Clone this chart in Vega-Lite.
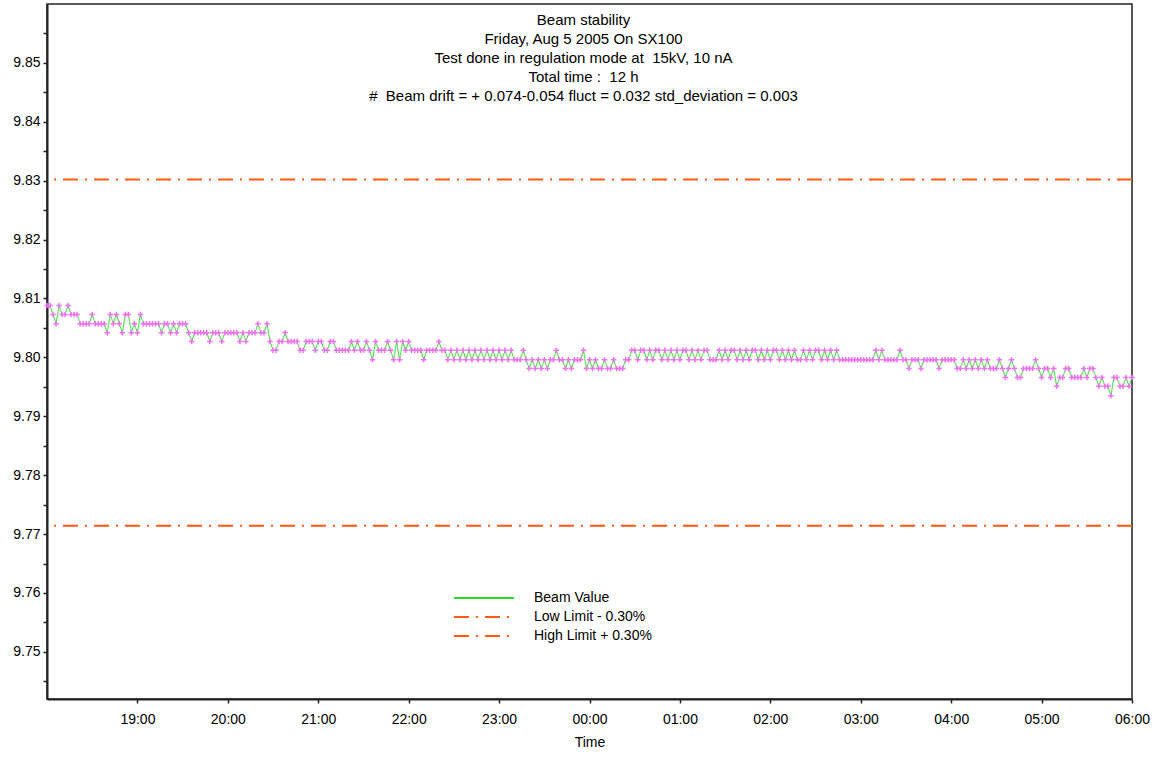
{
  "$schema": "https://vega.github.io/schema/vega-lite/v6.json",
  "width": 1085,
  "height": 695,
  "autosize": "none",
  "padding": {"left": 47, "top": 4, "right": 25, "bottom": 58},
  "background": "white",
  "config": {
    "view": {"stroke": "#222222", "strokeWidth": 1.5},
    "font": "Liberation Sans"
  },
  "title": {
    "text": [
      "Beam stability",
      "Friday, Aug 5 2005 On SX100",
      "Test done in regulation mode at \u00a015kV, 10 nA",
      "Total time : \u00a012 h",
      "# \u00a0Beam drift = + 0.074-0.054 fluct = 0.032 std_deviation = 0.003"
    ],
    "font": "Liberation Sans",
    "fontSize": 15,
    "fontWeight": "normal",
    "color": "#000000",
    "lineHeight": 19,
    "anchor": "middle",
    "dx": -6,
    "offset": -100
  },
  "datasets": {
    "limits": [
      {"series": "Low Limit - 0.30%", "v": 9.7714},
      {"series": "High Limit + 0.30%", "v": 9.8302}
    ],
    "beam": [
      {"m":0,"v":9.8088},{"m":2,"v":9.8088},{"m":4,"v":9.8073},{"m":6,"v":9.8057},{"m":8,"v":9.8088},
      {"m":10,"v":9.8073},{"m":12,"v":9.8073},{"m":14,"v":9.8088},{"m":16,"v":9.8073},{"m":18,"v":9.8073},
      {"m":20,"v":9.8073},{"m":22,"v":9.8057},{"m":24,"v":9.8057},{"m":26,"v":9.8057},{"m":28,"v":9.8057},
      {"m":30,"v":9.8073},{"m":32,"v":9.8057},{"m":34,"v":9.8057},{"m":36,"v":9.8057},{"m":38,"v":9.8057},
      {"m":40,"v":9.8042},{"m":42,"v":9.8073},{"m":44,"v":9.8057},{"m":46,"v":9.8073},{"m":48,"v":9.8057},
      {"m":50,"v":9.8042},{"m":52,"v":9.8073},{"m":54,"v":9.8073},{"m":56,"v":9.8042},{"m":58,"v":9.8057},
      {"m":60,"v":9.8042},{"m":62,"v":9.8073},{"m":64,"v":9.8057},{"m":66,"v":9.8057},{"m":68,"v":9.8057},
      {"m":70,"v":9.8057},{"m":72,"v":9.8057},{"m":74,"v":9.8057},{"m":76,"v":9.8042},{"m":78,"v":9.8057},
      {"m":80,"v":9.8057},{"m":82,"v":9.8042},{"m":84,"v":9.8057},{"m":86,"v":9.8042},{"m":88,"v":9.8057},
      {"m":90,"v":9.8057},{"m":92,"v":9.8057},{"m":94,"v":9.8042},{"m":96,"v":9.8027},{"m":98,"v":9.8042},
      {"m":100,"v":9.8042},{"m":102,"v":9.8042},{"m":104,"v":9.8042},{"m":106,"v":9.8042},{"m":108,"v":9.8027},
      {"m":110,"v":9.8042},{"m":112,"v":9.8042},{"m":114,"v":9.8042},{"m":116,"v":9.8027},{"m":118,"v":9.8042},
      {"m":120,"v":9.8042},{"m":122,"v":9.8042},{"m":124,"v":9.8042},{"m":126,"v":9.8042},{"m":128,"v":9.8027},
      {"m":130,"v":9.8042},{"m":132,"v":9.8027},{"m":134,"v":9.8042},{"m":136,"v":9.8042},{"m":138,"v":9.8042},
      {"m":140,"v":9.8057},{"m":142,"v":9.8042},{"m":144,"v":9.8042},{"m":146,"v":9.8057},{"m":148,"v":9.8027},
      {"m":150,"v":9.8012},{"m":152,"v":9.8012},{"m":154,"v":9.8027},{"m":156,"v":9.8027},{"m":158,"v":9.8042},
      {"m":160,"v":9.8027},{"m":162,"v":9.8027},{"m":164,"v":9.8027},{"m":166,"v":9.8027},{"m":168,"v":9.8012},
      {"m":170,"v":9.8012},{"m":172,"v":9.8027},{"m":174,"v":9.8027},{"m":176,"v":9.8027},{"m":178,"v":9.8012},
      {"m":180,"v":9.8027},{"m":182,"v":9.8027},{"m":184,"v":9.8012},{"m":186,"v":9.8012},{"m":188,"v":9.8027},
      {"m":190,"v":9.8027},{"m":192,"v":9.8012},{"m":194,"v":9.8012},{"m":196,"v":9.8012},{"m":198,"v":9.8012},
      {"m":200,"v":9.8012},{"m":202,"v":9.8027},{"m":204,"v":9.8012},{"m":206,"v":9.8027},{"m":208,"v":9.8012},
      {"m":210,"v":9.8012},{"m":212,"v":9.8027},{"m":214,"v":9.8012},{"m":216,"v":9.7996},{"m":218,"v":9.8027},
      {"m":220,"v":9.8012},{"m":222,"v":9.8012},{"m":224,"v":9.8012},{"m":226,"v":9.8027},{"m":228,"v":9.8012},
      {"m":230,"v":9.7996},{"m":232,"v":9.8027},{"m":234,"v":9.7996},{"m":236,"v":9.8027},{"m":238,"v":9.8012},
      {"m":240,"v":9.8027},{"m":242,"v":9.8012},{"m":244,"v":9.8012},{"m":246,"v":9.8012},{"m":248,"v":9.8012},
      {"m":250,"v":9.7996},{"m":252,"v":9.8012},{"m":254,"v":9.8012},{"m":256,"v":9.8012},{"m":258,"v":9.8012},
      {"m":260,"v":9.8027},{"m":262,"v":9.8012},{"m":264,"v":9.8012},{"m":266,"v":9.7996},{"m":268,"v":9.8012},
      {"m":270,"v":9.7996},{"m":272,"v":9.8012},{"m":274,"v":9.7996},{"m":276,"v":9.8012},{"m":278,"v":9.7996},
      {"m":280,"v":9.8012},{"m":282,"v":9.7996},{"m":284,"v":9.8012},{"m":286,"v":9.7996},{"m":288,"v":9.8012},
      {"m":290,"v":9.7996},{"m":292,"v":9.8012},{"m":294,"v":9.7996},{"m":296,"v":9.8012},{"m":298,"v":9.7996},
      {"m":300,"v":9.8012},{"m":302,"v":9.7996},{"m":304,"v":9.8012},{"m":306,"v":9.7996},{"m":308,"v":9.8012},
      {"m":310,"v":9.7996},{"m":312,"v":9.7996},{"m":314,"v":9.7996},{"m":316,"v":9.8012},{"m":318,"v":9.7996},
      {"m":320,"v":9.7981},{"m":322,"v":9.7996},{"m":324,"v":9.7981},{"m":326,"v":9.7996},{"m":328,"v":9.7981},
      {"m":330,"v":9.7996},{"m":332,"v":9.7981},{"m":334,"v":9.7996},{"m":336,"v":9.7996},{"m":338,"v":9.8012},
      {"m":340,"v":9.7996},{"m":342,"v":9.7996},{"m":344,"v":9.7981},{"m":346,"v":9.7996},{"m":348,"v":9.7981},
      {"m":350,"v":9.7996},{"m":352,"v":9.7996},{"m":354,"v":9.7996},{"m":356,"v":9.8012},{"m":358,"v":9.7981},
      {"m":360,"v":9.7996},{"m":362,"v":9.7981},{"m":364,"v":9.7996},{"m":366,"v":9.7981},{"m":368,"v":9.7981},
      {"m":370,"v":9.7996},{"m":372,"v":9.7981},{"m":374,"v":9.7981},{"m":376,"v":9.7996},{"m":378,"v":9.7981},
      {"m":380,"v":9.7981},{"m":382,"v":9.7981},{"m":384,"v":9.7996},{"m":386,"v":9.7996},{"m":388,"v":9.8012},
      {"m":390,"v":9.8012},{"m":392,"v":9.7996},{"m":394,"v":9.8012},{"m":396,"v":9.8012},{"m":398,"v":9.7996},
      {"m":400,"v":9.8012},{"m":402,"v":9.7996},{"m":404,"v":9.8012},{"m":406,"v":9.8012},{"m":408,"v":9.7996},
      {"m":410,"v":9.8012},{"m":412,"v":9.7996},{"m":414,"v":9.8012},{"m":416,"v":9.7996},{"m":418,"v":9.8012},
      {"m":420,"v":9.7996},{"m":422,"v":9.8012},{"m":424,"v":9.8012},{"m":426,"v":9.7996},{"m":428,"v":9.8012},
      {"m":430,"v":9.7996},{"m":432,"v":9.8012},{"m":434,"v":9.7996},{"m":436,"v":9.8012},{"m":438,"v":9.8012},
      {"m":440,"v":9.7996},{"m":442,"v":9.7996},{"m":444,"v":9.7996},{"m":446,"v":9.8012},{"m":448,"v":9.7996},
      {"m":450,"v":9.8012},{"m":452,"v":9.7996},{"m":454,"v":9.8012},{"m":456,"v":9.8012},{"m":458,"v":9.7996},
      {"m":460,"v":9.8012},{"m":462,"v":9.7996},{"m":464,"v":9.8012},{"m":466,"v":9.7996},{"m":468,"v":9.8012},
      {"m":470,"v":9.8012},{"m":472,"v":9.7996},{"m":474,"v":9.8012},{"m":476,"v":9.7996},{"m":478,"v":9.8012},
      {"m":480,"v":9.7996},{"m":482,"v":9.8012},{"m":484,"v":9.8012},{"m":486,"v":9.7996},{"m":488,"v":9.8012},
      {"m":490,"v":9.7996},{"m":492,"v":9.8012},{"m":494,"v":9.7996},{"m":496,"v":9.8012},{"m":498,"v":9.7996},
      {"m":500,"v":9.7996},{"m":502,"v":9.8012},{"m":504,"v":9.7996},{"m":506,"v":9.8012},{"m":508,"v":9.7996},
      {"m":510,"v":9.8012},{"m":512,"v":9.8012},{"m":514,"v":9.7996},{"m":516,"v":9.8012},{"m":518,"v":9.7996},
      {"m":520,"v":9.8012},{"m":522,"v":9.7996},{"m":524,"v":9.8012},{"m":526,"v":9.7996},{"m":528,"v":9.7996},
      {"m":530,"v":9.7996},{"m":532,"v":9.7996},{"m":534,"v":9.7996},{"m":536,"v":9.7996},{"m":538,"v":9.7996},
      {"m":540,"v":9.7996},{"m":542,"v":9.7996},{"m":544,"v":9.7996},{"m":546,"v":9.7996},{"m":548,"v":9.7996},
      {"m":550,"v":9.8012},{"m":552,"v":9.7996},{"m":554,"v":9.8012},{"m":556,"v":9.7996},{"m":558,"v":9.7996},
      {"m":560,"v":9.7996},{"m":562,"v":9.7996},{"m":564,"v":9.7996},{"m":566,"v":9.8012},{"m":568,"v":9.7996},
      {"m":570,"v":9.7996},{"m":572,"v":9.7981},{"m":574,"v":9.7996},{"m":576,"v":9.7996},{"m":578,"v":9.7996},
      {"m":580,"v":9.7981},{"m":582,"v":9.7996},{"m":584,"v":9.7996},{"m":586,"v":9.7996},{"m":588,"v":9.7996},
      {"m":590,"v":9.7996},{"m":592,"v":9.7981},{"m":594,"v":9.7996},{"m":596,"v":9.7996},{"m":598,"v":9.7996},
      {"m":600,"v":9.7996},{"m":602,"v":9.7996},{"m":604,"v":9.7981},{"m":606,"v":9.7981},{"m":608,"v":9.7996},
      {"m":610,"v":9.7981},{"m":612,"v":9.7996},{"m":614,"v":9.7981},{"m":616,"v":9.7996},{"m":618,"v":9.7981},
      {"m":620,"v":9.7996},{"m":622,"v":9.7981},{"m":624,"v":9.7996},{"m":626,"v":9.7981},{"m":628,"v":9.7981},
      {"m":630,"v":9.7981},{"m":632,"v":9.7996},{"m":634,"v":9.7981},{"m":636,"v":9.7966},{"m":638,"v":9.7981},
      {"m":640,"v":9.7996},{"m":642,"v":9.7981},{"m":644,"v":9.7966},{"m":646,"v":9.7966},{"m":648,"v":9.7981},
      {"m":650,"v":9.7981},{"m":652,"v":9.7981},{"m":654,"v":9.7981},{"m":656,"v":9.7996},{"m":658,"v":9.7981},
      {"m":660,"v":9.7966},{"m":662,"v":9.7981},{"m":664,"v":9.7981},{"m":666,"v":9.7966},{"m":668,"v":9.7981},
      {"m":670,"v":9.7951},{"m":672,"v":9.7966},{"m":674,"v":9.7966},{"m":676,"v":9.7981},{"m":678,"v":9.7981},
      {"m":680,"v":9.7966},{"m":682,"v":9.7966},{"m":684,"v":9.7966},{"m":686,"v":9.7966},{"m":688,"v":9.7981},
      {"m":690,"v":9.7966},{"m":692,"v":9.7981},{"m":694,"v":9.7981},{"m":696,"v":9.7966},{"m":698,"v":9.7951},
      {"m":700,"v":9.7966},{"m":702,"v":9.7951},{"m":704,"v":9.7951},{"m":706,"v":9.7935},{"m":708,"v":9.7966},
      {"m":710,"v":9.7966},{"m":712,"v":9.7951},{"m":714,"v":9.7951},{"m":716,"v":9.7966},{"m":718,"v":9.7951},
      {"m":720,"v":9.7966}
    ]
  },
  "layer": [
    {
      "data": {"name": "limits"},
      "mark": {"type": "rule", "strokeWidth": 2},
      "encoding": {
        "y": {"field": "v", "type": "quantitative"},
        "color": {
          "field": "series",
          "type": "nominal",
          "scale": {
            "domain": ["Beam Value", "Low Limit - 0.30%", "High Limit + 0.30%"],
            "range": ["#22DD22", "#FF5A14", "#FF5A14"]
          },
          "legend": {
            "title": null,
            "orient": "none",
            "legendX": 429,
            "legendY": 586,
            "symbolType": "M-4.3,0L4.3,0",
            "symbolSize": 196,
            "symbolStrokeWidth": 2,
            "labelFont": "Liberation Sans",
            "labelFontSize": 14,
            "labelColor": "#000000",
            "labelOffset": 42,
            "rowPadding": 4,
            "padding": 0
          }
        },
        "strokeDash": {
          "field": "series",
          "type": "nominal",
          "scale": {
            "domain": ["Beam Value", "Low Limit - 0.30%", "High Limit + 0.30%"],
            "range": [[1, 0], [15, 7, 2, 7], [15, 7, 2, 7]]
          },
          "legend": {
            "title": null,
            "orient": "none",
            "legendX": 429,
            "legendY": 586,
            "symbolType": "M-4.3,0L4.3,0",
            "symbolSize": 196,
            "symbolStrokeWidth": 2,
            "labelFont": "Liberation Sans",
            "labelFontSize": 14,
            "labelColor": "#000000",
            "labelOffset": 42,
            "rowPadding": 4,
            "padding": 0
          }
        }
      }
    },
    {
      "data": {"name": "beam"},
      "mark": {"type": "line", "strokeWidth": 1},
      "encoding": {
        "x": {
          "field": "m",
          "type": "quantitative",
          "scale": {"domain": [0, 720], "nice": false, "zero": false},
          "axis": {
            "title": "Time",
            "titleFont": "Liberation Sans",
            "titleFontSize": 14,
            "titleFontWeight": "normal",
            "titleColor": "#000000",
            "titlePadding": 9,
            "grid": false,
            "values": [60, 120, 180, 240, 300, 360, 420, 480, 540, 600, 660, 720],
            "tickCount": 30,
            "labelExpr": "(((18 + datum.value / 60) % 24) < 10 ? '0' : '') + ((18 + datum.value / 60) % 24) + ':00'",
            "labelFont": "Liberation Sans",
            "labelFontSize": 14,
            "labelColor": "#000000",
            "labelPadding": 9,
            "labelOverlap": false,
            "labelFlush": false,
            "tickSize": 4,
            "tickColor": "#222222",
            "tickWidth": 1.5,
            "domainColor": "#222222",
            "domainWidth": 2
          }
        },
        "y": {
          "field": "v",
          "type": "quantitative",
          "scale": {"domain": [9.742, 9.86], "nice": false, "zero": false},
          "axis": {
            "title": null,
            "grid": false,
            "values": [9.745, 9.75, 9.755, 9.76, 9.765, 9.77, 9.775, 9.78, 9.785, 9.79, 9.795, 9.8, 9.805, 9.81, 9.815, 9.82, 9.825, 9.83, 9.835, 9.84, 9.845, 9.85, 9.855],
            "tickCount": 40,
            "format": ".3f",
            "labelExpr": "substring(datum.label, 4) == '0' ? substring(datum.label, 0, 4) : ''",
            "labelOverlap": false,
            "labelFont": "Liberation Sans",
            "labelFontSize": 14,
            "labelColor": "#000000",
            "labelPadding": 3,
            "tickSize": 4,
            "tickColor": "#222222",
            "tickWidth": 1.5,
            "domainColor": "#222222",
            "domainWidth": 2
          }
        },
        "color": {"datum": "Beam Value"},
        "strokeDash": {"datum": "Beam Value"}
      }
    },
    {
      "data": {"name": "beam"},
      "mark": {
        "type": "point",
        "shape": "M-1,0L1,0M0,-1L0,1",
        "filled": false,
        "size": 30,
        "strokeWidth": 1.5,
        "color": "#F070F0",
        "opacity": 1
      },
      "encoding": {
        "x": {"field": "m", "type": "quantitative"},
        "y": {"field": "v", "type": "quantitative"}
      }
    }
  ]
}
